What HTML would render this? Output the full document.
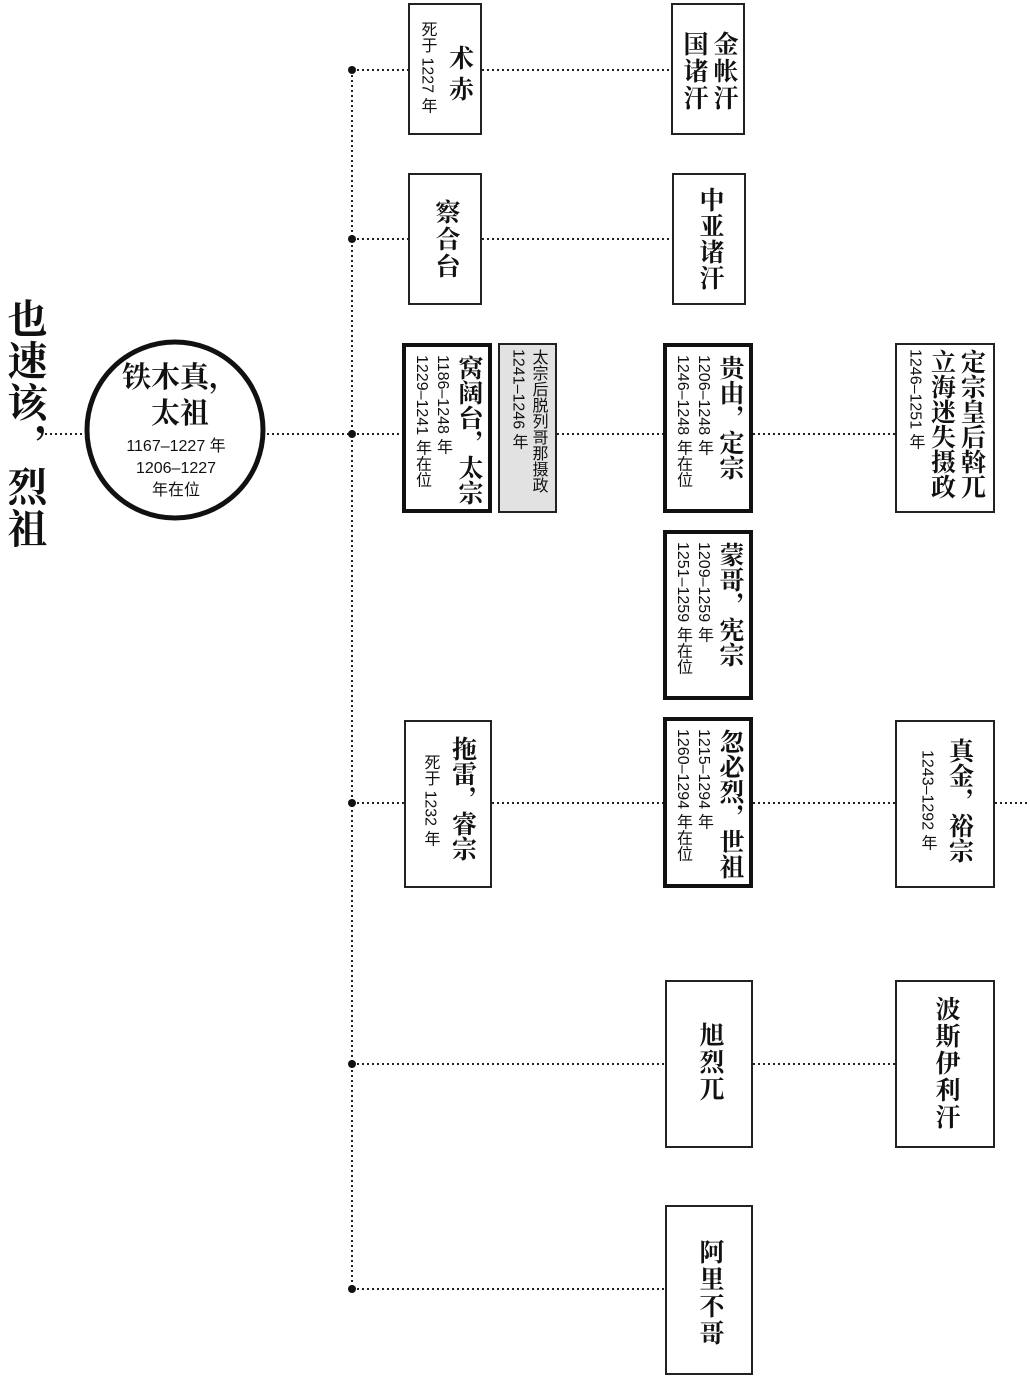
<!DOCTYPE html>
<html><head><meta charset="utf-8">
<style>
body{margin:0;width:1030px;height:1378px;background:#fff;position:relative;overflow:hidden;}
.b{position:absolute;box-sizing:border-box;border:2px solid #222;background:#fff;display:flex;flex-direction:row-reverse;justify-content:center;align-items:flex-start;padding-top:8px;}
.b>div{writing-mode:vertical-rl;white-space:nowrap;}
.thick{border:4px solid #111;}
.n{font-family:"Liberation Serif","Noto Serif CJK SC",serif;font-weight:bold;font-size:25px;line-height:30px;color:#111;}
.s{font-family:"Liberation Sans","Noto Sans CJK SC",sans-serif;font-size:16px;line-height:21px;color:#111;}
svg{position:absolute;left:0;top:0;}
</style></head><body>
<svg width="1030" height="1378">
<g stroke="#222" stroke-width="2" stroke-dasharray="2,3" fill="none">
<line x1="352" y1="70" x2="352" y2="1289"/>
<line x1="45" y1="434" x2="90" y2="434"/>
<line x1="262" y1="434" x2="402" y2="434"/>
<line x1="352" y1="70" x2="408" y2="70"/><line x1="482" y1="70" x2="671" y2="70"/>
<line x1="352" y1="239" x2="408" y2="239"/><line x1="482" y1="239" x2="672" y2="239"/>
<line x1="557" y1="434" x2="663" y2="434"/><line x1="753" y1="434" x2="895" y2="434"/>
<line x1="352" y1="803" x2="404" y2="803"/><line x1="492" y1="803" x2="663" y2="803"/><line x1="753" y1="803" x2="895" y2="803"/><line x1="995" y1="803" x2="1030" y2="803"/>
<line x1="352" y1="1064" x2="665" y2="1064"/><line x1="753" y1="1064" x2="895" y2="1064"/>
<line x1="352" y1="1289" x2="665" y2="1289"/>
</g>
<g fill="#111">
<circle cx="352" cy="70" r="4"/><circle cx="352" cy="239" r="4"/><circle cx="352" cy="434" r="4"/><circle cx="352" cy="803" r="4"/><circle cx="352" cy="1064" r="4"/><circle cx="352" cy="1289" r="4"/>
</g>
<circle cx="175" cy="430" r="88" fill="#fff" stroke="#111" stroke-width="5"/>
</svg>

<div style="position:absolute;left:2px;top:298px;writing-mode:vertical-rl;font-family:'Liberation Serif','Noto Serif CJK SC',serif;font-weight:bold;font-size:40px;line-height:44px;letter-spacing:2px;color:#111;white-space:nowrap;">也速该，烈祖</div>

<div style="position:absolute;left:100px;top:360px;width:160px;text-align:center;">
<div class="n" style="font-size:29px;line-height:36px;">铁木真，<br>太祖</div>
<div class="s" style="line-height:22px;margin-top:4px;margin-right:8px;">1167–1227 年<br>1206–1227<br>年在位</div>
</div>

<div class="b" style="left:408px;top:3px;width:74px;height:132px;"><div class="n" style="margin-top:32px;letter-spacing:6px">术赤</div><div class="s" style="margin-right:6px;margin-top:8px">死于 1227 年</div></div>
<div class="b" style="left:671px;top:3px;width:74px;height:132px;padding-top:26px;"><div class="n" style="letter-spacing:2px">金帐汗</div><div class="n" style="letter-spacing:2px">国诸汗</div></div>
<div class="b" style="left:408px;top:173px;width:74px;height:132px;padding-top:24px;"><div class="n" style="letter-spacing:2px">察合台</div></div>
<div class="b" style="left:672px;top:173px;width:74px;height:132px;padding-top:12px;"><div class="n" style="letter-spacing:1px">中亚诸汗</div></div>

<div class="b thick" style="left:402px;top:343px;width:90px;height:170px;"><div class="n">窝阔台，太宗</div><div class="s">1186–1248 年</div><div class="s">1229–1241 年在位</div></div>
<div class="b" style="left:498px;top:343px;width:59px;height:170px;background:#e2e2e2;padding-top:4px;"><div class="s" style="line-height:20px">太宗后脱列哥那摄政</div><div class="s" style="line-height:20px">1241–1246 年</div></div>
<div class="b thick" style="left:663px;top:343px;width:90px;height:170px;"><div class="n">贵由，定宗</div><div class="s">1206–1248 年</div><div class="s">1246–1248 年在位</div></div>
<div class="b" style="left:895px;top:343px;width:100px;height:170px;padding-top:4px;"><div class="n">定宗皇后斡兀</div><div class="n">立海迷失摄政</div><div class="s">1246–1251 年</div></div>

<div class="b thick" style="left:663px;top:530px;width:90px;height:170px;"><div class="n">蒙哥，宪宗</div><div class="s">1209–1259 年</div><div class="s">1251–1259 年在位</div></div>

<div class="b" style="left:404px;top:720px;width:88px;height:168px;padding-top:14px;"><div class="n">拖雷，睿宗</div><div class="s" style="margin-right:6px;margin-top:18px">死于 1232 年</div></div>
<div class="b thick" style="left:663px;top:717px;width:90px;height:171px;"><div class="n">忽必烈，世祖</div><div class="s">1215–1294 年</div><div class="s">1260–1294 年在位</div></div>
<div class="b" style="left:895px;top:720px;width:100px;height:168px;padding-top:16px;"><div class="n">真金，裕宗</div><div class="s" style="margin-right:6px;margin-top:12px">1243–1292 年</div></div>

<div class="b" style="left:665px;top:980px;width:88px;height:168px;padding-top:40px;"><div class="n" style="letter-spacing:2px">旭烈兀</div></div>
<div class="b" style="left:895px;top:980px;width:100px;height:168px;padding-top:14px;"><div class="n" style="letter-spacing:2px">波斯伊利汗</div></div>
<div class="b" style="left:665px;top:1205px;width:88px;height:170px;padding-top:32px;"><div class="n" style="letter-spacing:2px">阿里不哥</div></div>
</body></html>
